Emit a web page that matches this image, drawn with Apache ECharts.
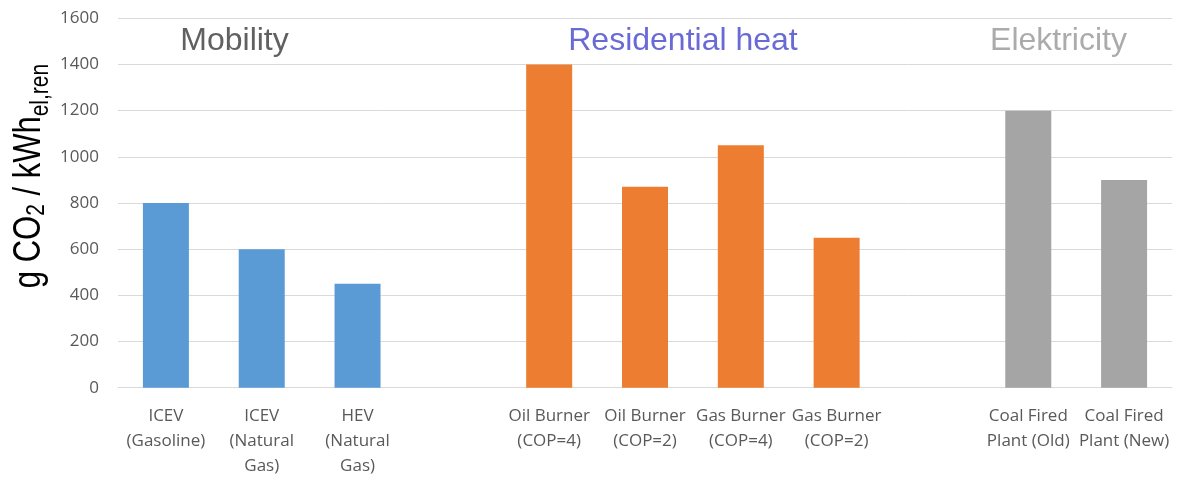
<!DOCTYPE html>
<html>
<head>
<meta charset="utf-8">
<style>
  html, body { margin: 0; padding: 0; background: #fff; }
  #chart { width: 1177px; height: 480px; }
</style>
<script src="https://cdn.jsdelivr.net/npm/echarts@6/dist/echarts.min.js"></script>
</head>
<body>
<div id="chart"></div>
<script>
// Category slots; empty strings leave a gap between the three groups
const categories = [
  'ICEV\n(Gasoline)', 'ICEV\n(Natural\nGas)', 'HEV\n(Natural\nGas)',
  '',
  'Oil Burner\n(COP=4)', 'Oil Burner\n(COP=2)', 'Gas Burner\n(COP=4)', 'Gas Burner\n(COP=2)',
  '',
  'Coal Fired\nPlant (Old)', 'Coal Fired\nPlant (New)'
];

// g CO2 per kWh of renewable electricity, per group
const mobilityValues = [800, 600, 450];
const heatValues = [1400, 870, 1050, 650];
const electricityValues = [1200, 900];

// Where each group starts among the category slots
const mobilityStart = 0;
const heatStart = 4;
const electricityStart = 9;

const groupTitles = ['Mobility', 'Residential heat', 'Elektricity'];
const yTicks = [0, 200, 400, 600, 800, 1000, 1200, 1400, 1600];

function placeGroup(values, start) {
  const out = categories.map(() => '-');
  values.forEach((v, i) => { out[start + i] = v; });
  return out;
}

const chart = echarts.init(document.getElementById('chart'), null, { renderer: 'canvas' });

const barWidth = 46;

chart.setOption({
  animation: false,
  grid: { left: 118, right: 5, top: 18.3, bottom: 92.3 },
  xAxis: {
    type: 'category',
    data: categories,
    axisLine: { show: true, lineStyle: { color: '#d9d9d9', width: 1 } },
    axisTick: { show: false },
    axisLabel: {
      interval: 0,
      margin: 16,
      color: '#595959',
      fontFamily: 'Open Sans',
      fontSize: 17,
      lineHeight: 25
    }
  },
  yAxis: {
    type: 'value',
    min: yTicks[0],
    max: yTicks[yTicks.length - 1],
    interval: yTicks[1] - yTicks[0],
    axisLine: { show: false },
    axisTick: { show: false },
    splitLine: { lineStyle: { color: '#d9d9d9', width: 1 } },
    axisLabel: {
      margin: 19,
      color: '#595959',
      fontFamily: 'Open Sans',
      fontSize: 17,
      formatter: (v) => String(v)
    }
  },
  series: [
    {
      name: groupTitles[0], type: 'bar', stack: 'all', barWidth: barWidth,
      itemStyle: { color: '#5B9BD5' },
      data: placeGroup(mobilityValues, mobilityStart)
    },
    {
      name: groupTitles[1], type: 'bar', stack: 'all', barWidth: barWidth,
      itemStyle: { color: '#ED7D31' },
      data: placeGroup(heatValues, heatStart)
    },
    {
      name: groupTitles[2], type: 'bar', stack: 'all', barWidth: barWidth,
      itemStyle: { color: '#A5A5A5' },
      data: placeGroup(electricityValues, electricityStart)
    }
  ],
  graphic: [
    {
      type: 'text', x: 234.5, y: 41,
      style: { text: groupTitles[0], fill: '#606060', font: '32px "Liberation Sans"', align: 'center', verticalAlign: 'middle' }
    },
    {
      type: 'text', x: 683, y: 41,
      style: { text: groupTitles[1], fill: '#6A6AD6', font: '32px "Liberation Sans"', align: 'center', verticalAlign: 'middle' }
    },
    {
      type: 'text', x: 1058.5, y: 41,
      style: { text: groupTitles[2], fill: '#ABABAB', font: '32px "Liberation Sans"', align: 'center', verticalAlign: 'middle' }
    },
    {
      // Axis title, read bottom to top, with subscripts
      type: 'text', x: 29, y: 176,
      rotation: Math.PI / 2,
      scaleY: 1.23,
      style: {
        text: '{m|g CO}{a|2}{m| / kWh}{b|el,ren}',
        align: 'center',
        verticalAlign: 'middle',
        fill: '#000',
        rich: {
          m: { fontFamily: 'Liberation Sans', fontSize: 31, lineHeight: 31, verticalAlign: 'top', fill: '#000' },
          a: { fontFamily: 'Liberation Sans', fontSize: 21, lineHeight: 31, verticalAlign: 'top', padding: [11, 0, 0, 0], fill: '#000' },
          b: { fontFamily: 'Liberation Sans', fontSize: 21, lineHeight: 31, verticalAlign: 'top', padding: [14.5, 0, 0, 0], fill: '#000' }
        }
      }
    }
  ]
});
</script>
</body>
</html>
